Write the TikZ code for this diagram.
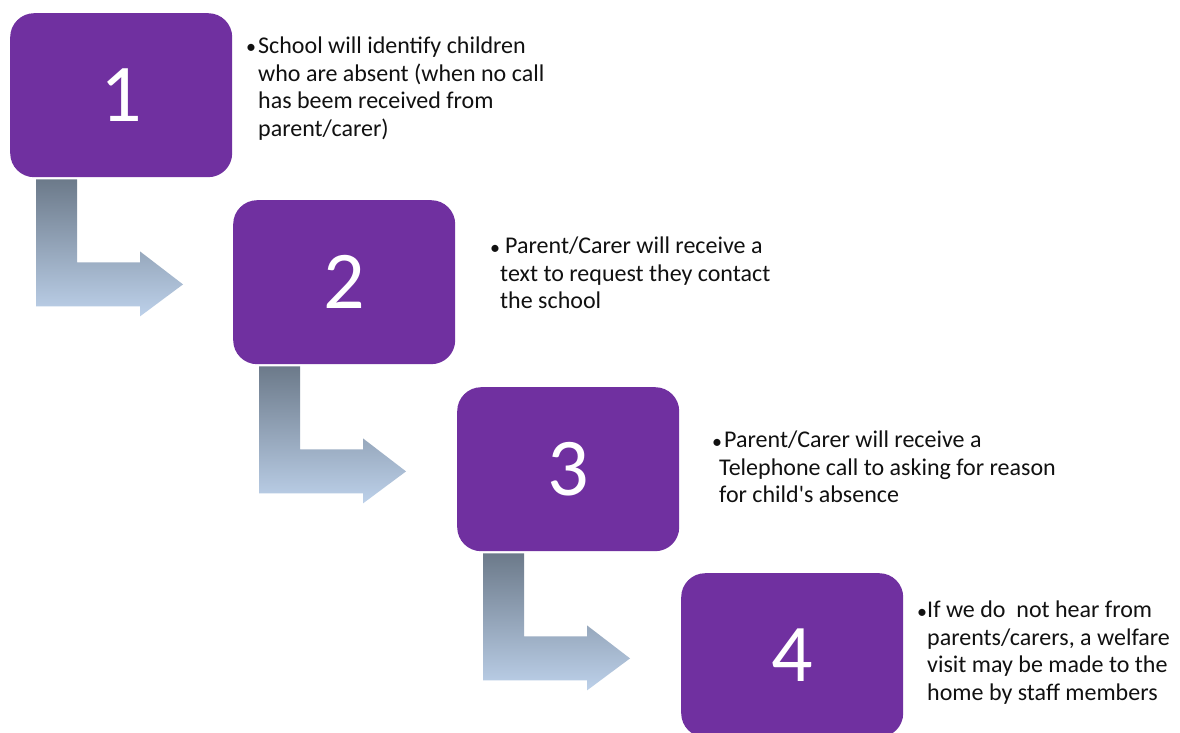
\documentclass[tikz,border=0pt]{standalone}
\usepackage{fontspec}
\setmainfont{Carlito}[Ligatures=TeXOff]
\usetikzlibrary{calc}
\definecolor{boxpurple}{HTML}{7030A0}
\definecolor{arrtop}{HTML}{6C7A8A}
\definecolor{arrbot}{HTML}{BDD1EA}
\definecolor{txt}{HTML}{111111}
\newcommand\mybentarrow[1]{%
  \path[bentarrow] ([shift={(26,2)}]#1.south west) -- ++(41,0) -- ++(0,83)
    -- ++(63,0) -- ++(0,-11) -- ++(43,33) -- ++(-43,32) -- ++(0,-10)
    -- ++(-104,0) -- cycle;}
\begin{document}
\begin{tikzpicture}[x=1pt,y=-1pt,
  stepbox/.style={draw=none, fill=boxpurple, rounded corners=24pt,
    minimum width=222pt, minimum height=164pt, inner sep=0pt, text=white,
    font=\fontsize{82}{84}\selectfont, anchor=north west},
  desc/.style={anchor=north west, inner sep=0pt, align=left,
    font=\fontsize{24}{27.4}\selectfont, text=txt},
  bul/.style={anchor=base west, inner sep=0pt,
    font=\fontsize{20}{27.4}\selectfont, text=txt},
  bentarrow/.style={top color=arrtop, bottom color=arrbot, draw=none}]
\useasboundingbox (0,0) rectangle (1180,733);
\fill[white] (0,0) rectangle (1180,733);

\node[stepbox] (b1) at (10,13) {1};
\node[stepbox] (b2) at (233,200) {2};
\node[stepbox] (b3) at (457,387) {3};
\node[stepbox] (b4) at (681,573) {4};

\mybentarrow{b1}
\mybentarrow{b2}
\mybentarrow{b3}

\node[bul] (u1) at (246,54) {•};
\node[desc] (t1) at ([shift={(12,-17)}]u1.base west)
  {School will identify children\\who are absent (when no call\\has beem received from\\parent/carer)};

\node[bul] (u2) at (490,254) {•};
\node[desc] (t2) at ([shift={(10,-17)}]u2.base west)
  {\hspace{5pt}Parent/Carer will receive a\\text to request they contact\\the school};

\node[bul] (u3) at (712,448) {•};
\node[desc] (t3) at ([shift={(7,-17)}]u3.base west)
  {\hspace{5pt}Parent/Carer will receive a\\Telephone call to asking for reason\\for child's absence};

\node[bul] (u4) at (917,618) {•};
\node[desc] (t4) at ([shift={(10,-17)}]u4.base west)
  {If we do\ \ not hear from\\parents/carers, a welfare\\visit may be made to the\\home by staff members};
\end{tikzpicture}
\end{document}
